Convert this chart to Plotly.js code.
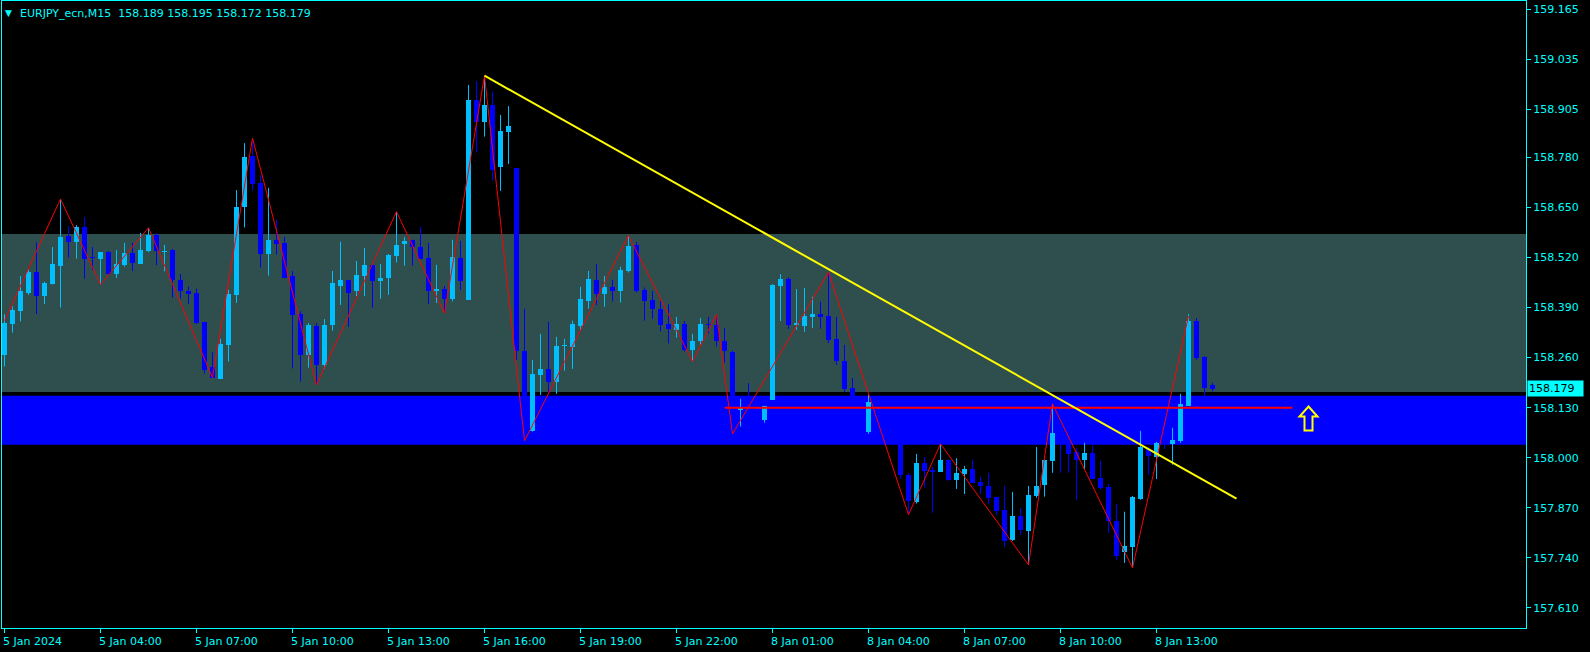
<!DOCTYPE html>
<html><head><meta charset="utf-8">
<script src="https://cdn.plot.ly/plotly-3.0.1.min.js"></script>
<style>html,body{margin:0;padding:0;background:#000;overflow:hidden}#chart{width:1590px;height:652px}</style>
</head><body><div id="chart"></div>
<script>
// ---- data (15-minute bars, EURJPY) ----
const openP = [158.267,158.348,158.380,158.429,158.482,158.421,158.450,158.499,158.575,158.559,158.599,158.519,158.517,158.534,158.477,158.501,158.532,158.503,158.537,158.579,
158.535,158.539,158.461,158.433,158.428,158.353,158.236,158.205,158.293,158.423,158.650,158.783,158.714,158.528,158.566,158.558,158.472,158.374,158.267,158.343,
158.240,158.345,158.446,158.462,158.434,158.473,158.501,158.460,158.468,158.525,158.554,158.566,158.548,158.519,158.434,158.439,158.411,158.519,158.410,158.929,
158.873,158.916,158.756,158.847,158.752,158.278,158.070,158.215,158.231,158.196,158.289,158.288,158.343,158.407,158.462,158.426,158.444,158.434,158.486,158.553,
158.436,158.410,158.387,158.348,158.333,158.348,158.281,158.304,158.347,158.346,158.303,158.275,158.124,158.150,158.100,158.097,158.150,158.446,158.464,158.345,
158.342,158.366,158.373,158.368,158.309,158.252,158.181,158.100,158.067,158.145,158.100,158.070,158.060,157.956,157.886,157.987,157.969,157.963,157.995,157.943,
157.958,157.971,157.937,157.927,157.899,157.865,157.787,157.849,157.810,157.901,157.930,157.992,158.065,158.045,158.015,157.995,158.013,157.948,157.925,157.836,
157.756,157.769,157.893,158.023,158.002,158.045,158.036,158.044,158.135,158.355,158.262,158.189];
const highP = [158.373,158.393,158.472,158.488,158.559,158.457,158.547,158.672,158.602,158.604,158.625,158.547,158.534,158.537,158.539,158.558,158.558,158.584,158.597,158.584,
158.553,158.542,158.477,158.445,158.439,158.353,158.274,158.309,158.436,158.695,158.817,158.830,158.734,158.701,158.618,158.573,158.485,158.380,158.350,158.350,
158.360,158.485,158.561,158.462,158.511,158.545,158.501,158.503,158.529,158.639,158.573,158.566,158.599,158.558,158.501,158.446,158.566,158.563,158.968,158.978,
158.992,158.951,158.890,158.913,158.752,158.387,158.254,158.322,158.353,158.314,158.309,158.356,158.444,158.485,158.503,158.472,158.462,158.496,158.576,158.560,
158.442,158.433,158.407,158.399,158.366,158.355,158.322,158.363,158.366,158.372,158.337,158.278,158.153,158.194,158.130,158.135,158.451,158.477,158.469,158.438,
158.441,158.418,158.405,158.482,158.366,158.293,158.207,158.120,158.163,158.150,158.110,158.090,158.070,157.960,158.010,158.002,157.976,158.036,157.995,157.999,
157.979,157.995,157.950,157.961,157.899,157.927,157.911,157.870,157.927,158.028,157.995,158.140,158.100,158.060,158.025,158.039,158.031,157.992,157.932,157.880,
157.860,157.901,158.070,158.028,158.041,158.060,158.078,158.166,158.373,158.363,158.264,158.195];
const lowP = [158.237,158.325,158.354,158.423,158.373,158.399,158.450,158.390,158.520,158.517,158.465,158.488,158.450,158.475,158.467,158.496,158.485,158.503,158.534,158.500,
158.484,158.416,158.413,158.400,158.347,158.219,158.208,158.205,158.250,158.402,158.598,158.694,158.494,158.473,158.528,158.468,158.232,158.198,158.234,158.189,
158.230,158.330,158.397,158.340,158.420,158.420,158.390,158.413,158.423,158.507,158.499,158.499,158.516,158.400,158.402,158.375,158.406,158.436,158.410,158.793,
158.834,158.719,158.693,158.763,158.254,158.044,158.068,158.163,158.163,158.166,158.226,158.231,158.332,158.387,158.397,158.392,158.406,158.403,158.481,158.429,
158.356,158.361,158.328,158.297,158.312,158.276,158.250,158.294,158.323,158.289,158.247,158.062,158.081,158.070,158.080,158.091,158.150,158.355,158.335,158.332,
158.327,158.337,158.335,158.298,158.241,158.171,158.090,158.050,158.062,158.090,158.060,158.040,157.945,157.855,157.881,157.922,157.857,157.963,157.940,157.919,
157.906,157.935,157.906,157.880,157.852,157.769,157.784,157.800,157.722,157.896,157.899,157.961,157.961,157.961,157.891,157.971,157.945,157.917,157.805,157.735,
157.727,157.714,157.891,157.956,157.945,158.023,157.982,158.039,158.135,158.254,158.161,158.172];
const closeP = [158.349,158.384,158.433,158.482,158.421,158.454,158.503,158.573,158.559,158.599,158.517,158.518,158.534,158.477,158.502,158.532,158.506,158.540,158.579,158.537,
158.538,158.461,158.432,158.426,158.351,158.229,158.208,158.296,158.426,158.651,158.781,158.711,158.528,158.566,158.556,158.468,158.372,158.266,158.345,158.240,
158.345,158.453,158.462,158.429,158.475,158.501,158.460,158.467,158.527,158.553,158.563,158.547,158.516,158.434,158.439,158.411,158.522,158.460,158.929,158.873,
158.916,158.747,158.849,158.862,158.278,158.070,158.218,158.231,158.196,158.291,158.291,158.348,158.413,158.465,158.426,158.444,158.434,158.488,158.550,158.434,
158.408,158.385,158.346,158.335,158.348,158.281,158.303,158.348,158.345,158.302,158.276,158.120,158.130,158.100,158.097,158.135,158.449,158.464,158.345,158.350,
158.368,158.373,158.366,158.306,158.250,158.179,158.100,158.070,158.145,158.100,158.070,158.060,157.954,157.887,157.987,157.966,157.963,157.995,157.943,157.961,
157.971,157.935,157.927,157.896,157.863,157.784,157.849,157.813,157.904,157.927,157.995,158.065,158.045,158.010,157.995,158.013,157.945,157.922,157.836,157.745,
157.771,157.899,158.028,158.005,158.039,158.038,158.046,158.140,158.355,158.259,158.181,158.179];

const xTickBars   = [0,12,24,36,48,60,72,84,96,108,120,132,144];
const xTickLabels = ["5 Jan 2024","5 Jan 04:00","5 Jan 07:00","5 Jan 10:00","5 Jan 13:00","5 Jan 16:00","5 Jan 19:00","5 Jan 22:00","8 Jan 01:00","8 Jan 04:00","8 Jan 07:00","8 Jan 10:00","8 Jan 13:00"];
const yTickVals   = [159.165,159.035,158.905,158.780,158.650,158.520,158.390,158.260,158.130,158.000,157.870,157.740,157.610];
const yTickLabels = ["159.165","159.035","158.905","158.780","158.650","158.520","158.390","158.260","158.130","158.000","157.870","157.740","157.610"];

const zigzagBars   = [0,7,12,18,26,31,39,49,55,60,65,78,86,89,91,103,113,117,128,131,141,148];
const zigzagPrices = [158.356,158.672,158.450,158.597,158.208,158.830,158.189,158.639,158.375,158.992,158.044,158.577,158.250,158.372,158.062,158.482,157.852,158.036,157.722,158.140,157.714,158.368];
const trendBars   = [60,154];
const trendPrices = [158.992,157.894];
const levelBars   = [90,161];
const levelPrice  = 158.130;
const upperZone   = [158.171,158.581];
const lowerZone   = [158.034,158.161];
const bidPrice    = 158.179;
const arrowBar    = 163;
const arrowPrice  = 158.102;
const symbolName  = "EURJPY_ecn,M15";

// ---- styles ----
const FG = '#00FFFF', BULL = '#00BFFF', BEAR = '#0000FF';
const FONT = 'DejaVu Sans';
const PX = 1.628/627;           // price per pixel
const n = openP.length;
const idx = openP.map((_, i) => i);

function group(isBull) {
  const xs = [], base = [], h = [], wx = [], wy = [];
  for (let i = 0; i < n; i++) {
    const bull = closeP[i] >= openP[i];
    if (bull !== isBull) continue;
    xs.push(idx[i]);
    base.push(Math.min(openP[i], closeP[i]));
    h.push(Math.max(Math.abs(closeP[i] - openP[i]), PX));
    wx.push(idx[i], idx[i], null);
    wy.push(lowP[i], highP[i], null);
  }
  return {xs, base, h, wx, wy};
}
const bu = group(true), be = group(false);

const traces = [
  {type:'scatter', mode:'lines', x:bu.wx, y:bu.wy, line:{color:BULL, width:1}, hoverinfo:'skip', showlegend:false},
  {type:'scatter', mode:'lines', x:be.wx, y:be.wy, line:{color:BEAR, width:1}, hoverinfo:'skip', showlegend:false},
  {type:'bar', x:bu.xs, base:bu.base, y:bu.h, width:0.625, marker:{color:BULL, line:{width:0}}, showlegend:false},
  {type:'bar', x:be.xs, base:be.base, y:be.h, width:0.625, marker:{color:BEAR, line:{width:0}}, showlegend:false},
  {type:'scatter', mode:'lines', x:zigzagBars, y:zigzagPrices, line:{color:'#FF0000', width:1}, showlegend:false},
  {type:'scatter', mode:'lines', x:levelBars, y:[levelPrice, levelPrice], line:{color:'#FF0000', width:2}, showlegend:false},
  {type:'scatter', mode:'lines', x:trendBars, y:trendPrices, line:{color:'#FFFF00', width:2}, showlegend:false}
];

const shapes = [
  {type:'rect', layer:'below', xref:'x', yref:'y', x0:-2, x1:400, y0:upperZone[0], y1:upperZone[1], fillcolor:'#2F4F4F', line:{width:0}},
  {type:'rect', layer:'below', xref:'x', yref:'y', x0:-2, x1:400, y0:lowerZone[0], y1:lowerZone[1], fillcolor:'#0000FF', line:{width:0}},
  {type:'line', layer:'below', xref:'paper', yref:'y', x0:0, x1:1, y0:bidPrice, y1:bidPrice, line:{color:'#101010', width:1}},
  {type:'path', xref:'x', yref:'y', xsizemode:'pixel', ysizemode:'pixel', xanchor:arrowBar, yanchor:arrowPrice,
   path:'M 0 12 L 9 2 L 4 2 L 4 -12 L -4 -12 L -4 2 L -9 2 Z', line:{color:'#FFFF00', width:2}, fillcolor:'rgba(0,0,0,0)'}
];

const annotations = xTickBars.map((b, i) => ({
  x:b, xref:'x', y:0, yref:'paper', yanchor:'top', xanchor:'left', yshift:-5, xshift:-4,
  text:xTickLabels[i], showarrow:false, font:{family:FONT, size:11, color:FG}
}));
const last = n - 1;
annotations.push({
  x:0, xref:'paper', y:1, yref:'paper', xanchor:'left', yanchor:'top', xshift:16, yshift:-4, showarrow:false,
  text:symbolName + '\u00a0\u00a0' + [openP[last], highP[last], lowP[last], closeP[last]].map(v => v.toFixed(3)).join(' '),
  font:{family:FONT, size:11, color:FG}
});
annotations.push({
  x:0, xref:'paper', y:1, yref:'paper', xanchor:'left', yanchor:'top', xshift:1, yshift:-5, showarrow:false,
  text:'\u25BC', font:{family:FONT, size:9, color:FG}
});
annotations.push({
  x:1, xref:'paper', y:bidPrice, yref:'y', xanchor:'left', yanchor:'middle', xshift:1, showarrow:false,
  text:closeP[last].toFixed(3), bgcolor:FG, borderpad:1, width:53, align:'left',
  font:{family:FONT, size:11, color:'#000000'}
});

const layout = {
  width:1590, height:652,
  margin:{l:2, r:64, t:1, b:24, pad:0},
  paper_bgcolor:'#000000', plot_bgcolor:'#000000',
  barmode:'overlay', bargap:0, showlegend:false,
  xaxis:{range:[-0.3125, 190.1875], showgrid:false, zeroline:false, showline:true, mirror:true, linecolor:FG, linewidth:1,
         tickvals:xTickBars, ticktext:xTickLabels, showticklabels:false, ticks:'outside', ticklen:4, tickcolor:FG, fixedrange:true},
  yaxis:{range:[157.558, 159.186], side:'right', showgrid:false, zeroline:false, showline:true, mirror:true, linecolor:FG, linewidth:1,
         tickvals:yTickVals, ticktext:yTickLabels, ticks:'outside', ticklen:4, tickcolor:FG,
         tickfont:{family:FONT, size:11, color:FG}, fixedrange:true},
  shapes, annotations
};
Plotly.newPlot('chart', traces, layout, {staticPlot:true, displayModeBar:false});
</script></body></html>
